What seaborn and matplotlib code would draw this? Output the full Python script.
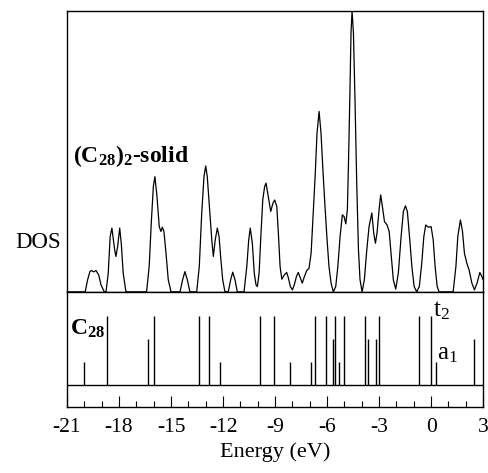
import matplotlib
matplotlib.use("Agg")
import matplotlib.pyplot as plt
import seaborn as sns

# DOS of the (C28)2 solid (energy in eV, DOS in arbitrary units)
dos_energy = [-21.00, -19.95, -19.81, -19.68, -19.60, -19.45, -19.33, -19.17, -19.04, -18.85,
              -18.75, -18.62, -18.51, -18.41, -18.25, -18.18, -18.08, -17.96, -17.87, -17.76,
              -17.60, -16.41, -16.26, -16.14, -16.02, -15.93, -15.81, -15.68, -15.58, -15.50,
              -15.41, -15.29, -15.16, -15.00, -14.48, -14.33, -14.20, -14.06, -13.91, -13.52,
              -13.37, -13.23, -13.10, -13.00, -12.91, -12.79, -12.65, -12.56, -12.45, -12.33,
              -12.23, -12.14, -12.02, -11.89, -11.70, -11.56, -11.44, -11.31, -11.18, -10.79,
              -10.63, -10.52, -10.43, -10.31, -10.20, -10.10, -10.02, -9.92, -9.83, -9.71,
              -9.60, -9.52, -9.39, -9.25, -9.12, -9.02, -8.90, -8.81, -8.71, -8.61,
              -8.47, -8.33, -8.23, -8.12, -8.00, -7.89, -7.77, -7.66, -7.54, -7.43,
              -7.31, -7.17, -7.04, -6.92, -6.81, -6.69, -6.58, -6.46, -6.35, -6.23,
              -6.12, -6.00, -5.89, -5.77, -5.64, -5.50, -5.38, -5.25, -5.12, -5.02,
              -4.92, -4.83, -4.77, -4.69, -4.62, -4.56, -4.48, -4.39, -4.29, -4.19,
              -4.10, -3.98, -3.85, -3.71, -3.58, -3.42, -3.31, -3.21, -3.12, -3.00,
              -2.91, -2.81, -2.69, -2.54, -2.42, -2.31, -2.18, -2.04, -1.89, -1.73,
              -1.60, -1.48, -1.37, -1.23, -1.11, -0.98, -0.83, -0.68, -0.54, -0.42,
              -0.31, -0.16, 0.00, 0.12, 0.23, 0.35, 0.46, 1.27, 1.43, 1.54,
              1.69, 1.81, 1.92, 2.06, 2.19, 2.35, 2.50, 2.65, 2.81, 2.93, 3.00]
dos_value = [0.0, 0.0, 4.3, 7.2, 7.6, 7.1, 7.6, 6.0, 2.5, 0.0,
             0.0, 6.7, 19.7, 22.7, 14.9, 12.6, 16.1, 22.7, 17.3, 6.7,
             0.0, 0.0, 9.0, 24.4, 37.5, 41.0, 33.9, 23.2, 21.5, 23.0,
             21.5, 13.8, 4.3, 0.0, 0.0, 4.3, 7.2, 4.3, 0.0, 0.0,
             9.0, 28.0, 41.0, 44.8, 41.0, 30.4, 18.5, 12.6, 18.5, 22.7,
             19.7, 12.6, 4.3, 0.0, 0.0, 4.3, 7.0, 4.3, 0.0, 0.0,
             9.0, 18.5, 22.7, 17.3, 6.7, 2.5, 1.9, 6.7, 18.5, 32.7,
             37.5, 38.7, 33.9, 28.6, 31.6, 32.7, 30.4, 20.9, 9.0, 4.5,
             6.0, 6.9, 4.9, 1.9, 0.7, 2.5, 5.4, 6.9, 4.9, 3.1,
             5.4, 7.6, 8.4, 13.8, 26.8, 41.0, 56.5, 64.2, 56.5, 42.2,
             30.4, 18.5, 9.0, 3.1, 0.0, 1.9, 9.0, 19.7, 27.4, 26.8,
             24.2, 29.2, 44.6, 68.3, 92.1, 100.0, 92.1, 68.3, 38.7, 14.9,
             4.3, 0.0, 4.3, 14.9, 23.2, 28.1, 20.9, 17.3, 20.9, 29.2,
             34.5, 30.4, 25.0, 23.8, 21.5, 13.8, 4.3, 1.0, 6.7, 19.7,
             28.6, 30.6, 28.6, 18.5, 9.0, 1.9, 0.0, 1.9, 10.2, 19.7,
             23.8, 23.0, 23.2, 18.5, 9.0, 1.9, 0.0, 0.0, 9.0, 19.7,
             25.6, 21.5, 13.8, 10.2, 7.8, 3.1, 0.7, 3.1, 6.9, 5.4, 4.3]

# C28 molecular levels (eV) and their degeneracy (a1 = 1, e = 2, t2 = 3)
level_energy = [-20.00, -18.67, -16.33, -15.98, -13.37, -12.83, -12.17, -9.87, -9.08,
                -8.15, -6.94, -6.69, -6.06, -5.64, -5.54, -5.29, -5.00, -3.79, -3.63,
                -3.17, -3.00, -0.67, 0.00, 0.27, 2.46]
level_degen = [1, 3, 2, 3, 3, 3, 1, 3, 3,
               1, 1, 3, 3, 2, 3, 1, 3, 3, 2,
               2, 3, 3, 3, 1, 2]

major_ticks = [-21, -18, -15, -12, -9, -6, -3, 0, 3]
major_labels = ["-21", "-18", "-15", "-12", "-9", "-6", "-3", "0", "3"]
minor_ticks = list(range(-21, 4))

sns.set_theme(style="white")
plt.rcParams['font.family'] = ['Liberation Serif', 'DejaVu Serif']
plt.rcParams['mathtext.fontset'] = 'custom'
plt.rcParams['mathtext.rm'] = 'Liberation Serif'
plt.rcParams['mathtext.it'] = 'Liberation Serif:italic'
plt.rcParams['mathtext.bf'] = 'Liberation Serif:bold'
plt.rcParams['text.color'] = 'black'
plt.rcParams['axes.labelcolor'] = 'black'
plt.rcParams['xtick.color'] = 'black'

fig = plt.figure(figsize=(4.89, 4.73), dpi=100)
ax_dos = fig.add_axes([0.137, 0.383, 0.851, 0.594])
ax_lev = fig.add_axes([0.137, 0.1395, 0.851, 0.2435])

# top panel: DOS of the solid
sns.lineplot(x=dos_energy, y=dos_value, ax=ax_dos, color="black", linewidth=0.9,
             sort=False, estimator=None)
ax_dos.set_xlim(-21, 3)
ax_dos.set_ylim(0, 100)
ax_dos.set_xticks([])
ax_dos.set_yticks([])
ax_dos.set_ylabel("DOS", rotation=0, fontsize=16.5, ha="center", va="center")
ax_dos.yaxis.set_label_coords(-0.0685, 0.174)
ax_dos.text(0.0137, 0.4626, r"(C$_{\mathbf{28}}$)$_{\mathbf{2}}$-solid", transform=ax_dos.transAxes,
            fontsize=17, fontweight="bold", ha="left", va="baseline")

# bottom panel: molecular levels
ax_lev.vlines(level_energy, 0, level_degen, color="black", linewidth=1.0)
ax_lev.axhline(0, color="black", linewidth=1.0)
ax_lev.set_xlim(-21, 3)
ax_lev.set_ylim(-0.97, 4.03)
ax_lev.set_yticks([])
ax_lev.set_xticks(major_ticks)
ax_lev.set_xticklabels(major_labels, fontsize=15.5)
ax_lev.set_xticks(minor_ticks, minor=True)
ax_lev.tick_params(axis="x", which="major", direction="in", length=8, width=0.8,
                   bottom=True, top=False, pad=8, colors="black")
ax_lev.tick_params(axis="x", which="minor", direction="in", length=4.3, width=0.8,
                   bottom=True, top=False)
ax_lev.set_xlabel("Energy (eV)", fontsize=16)
ax_lev.xaxis.set_label_coords(0.5, -0.305)
ax_lev.xaxis.label.set_va("top")
ax_lev.text(0.0084, 0.626, r"C$_{\mathbf{28}}$", transform=ax_lev.transAxes,
            fontsize=17, fontweight="bold", ha="left", va="baseline")
ax_lev.text(0.879, 0.791, r"t$_2$", transform=ax_lev.transAxes,
            fontsize=18, ha="left", va="baseline")
ax_lev.text(0.889, 0.417, r"a$_1$", transform=ax_lev.transAxes,
            fontsize=18, ha="left", va="baseline")

for ax in (ax_dos, ax_lev):
    for sp in ax.spines.values():
        sp.set_color("black")
        sp.set_linewidth(1.0)

fig.savefig("out.png", dpi=100)
